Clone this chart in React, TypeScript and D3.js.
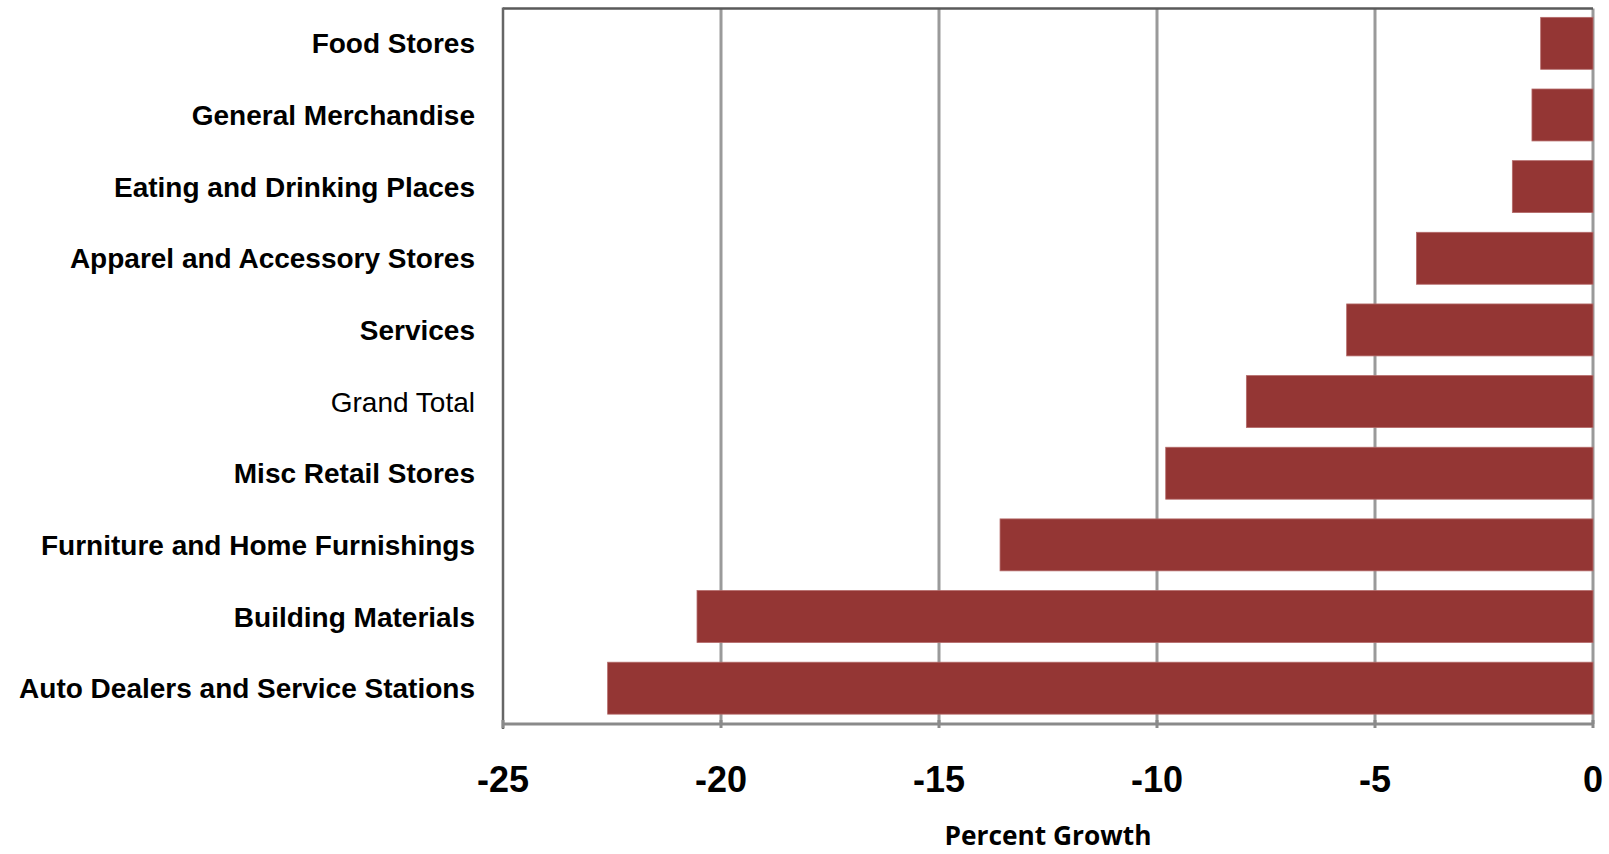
import React from "react";
import * as d3 from "d3";

const categories = [
  "Food Stores",
  "General Merchandise",
  "Eating and Drinking Places",
  "Apparel and Accessory Stores",
  "Services",
  "Grand Total",
  "Misc Retail Stores",
  "Furniture and Home Furnishings",
  "Building Materials",
  "Auto Dealers and Service Stations",
];
const values = [-1.2, -1.4, -1.85, -4.05, -5.65, -7.95, -9.8, -13.6, -20.55, -22.6];
const boldFlags = [true, true, true, true, true, false, true, true, true, true];
const xTicks = [-25, -20, -15, -10, -5, 0];
const xTitle = "Percent Growth";

const W = 1609;
const H = 854;
const L = 503;
const R = 1593;
const T = 7.5;
const B = 724;

export default function App() {
  const x = d3.scaleLinear().domain([-25, 0]).range([L, R]);
  const y = d3
    .scaleBand<string>()
    .domain(categories)
    .range([T, B])
    .paddingInner(0.275)
    .paddingOuter(0.1375);
  const bw = y.bandwidth();

  return (
    <div style={{ position: "absolute", left: 0, top: 0 }}>
      <svg width={W} height={H} style={{ display: "block", background: "#fff" }}>
        {xTicks.slice(1).map((t) => (
          <line
            key={"g" + t}
            x1={x(t)}
            x2={x(t)}
            y1={T + 1}
            y2={B}
            stroke="#9a9a9a"
            strokeWidth={3}
          />
        ))}
        {categories.map((c, i) => {
          const v = values[i];
          return (
            <rect
              key={c}
              x={x(v)}
              y={y(c)!}
              width={x(0) - x(v)}
              height={bw}
              fill="#943634"
              stroke="#b46a69"
              strokeWidth={0.8}
            />
          );
        })}
        <line x1={L} x2={R} y1={T + 1} y2={T + 1} stroke="#5a5a5a" strokeWidth={2.5} />
        <line x1={L} x2={L} y1={T} y2={B + 5} stroke="#666" strokeWidth={2.5} />
        <line x1={L} x2={R + 1} y1={B} y2={B} stroke="#8a8a8a" strokeWidth={3} />
        {xTicks.map((t) => (
          <line
            key={"t" + t}
            x1={x(t)}
            x2={x(t)}
            y1={B - 4}
            y2={B + 4}
            stroke="#8a8a8a"
            strokeWidth={3}
          />
        ))}
        {xTicks.map((t) => (
          <text
            key={"l" + t}
            x={x(t)}
            y={792}
            textAnchor="middle"
            fontFamily="'Liberation Sans', Arial, sans-serif"
            fontWeight="bold"
            fontSize={36}
            fill="#000"
          >
            {t}
          </text>
        ))}
        {categories.map((c, i) => (
          <text
            key={"c" + c}
            x={475}
            y={y(c)! + bw / 2}
            dy="0.36em"
            textAnchor="end"
            fontFamily="'Liberation Sans', Arial, sans-serif"
            fontWeight={boldFlags[i] ? "bold" : "normal"}
            fontSize={28}
            fill="#000"
          >
            {c}
          </text>
        ))}
        <text
          x={(L + R) / 2}
          y={845}
          textAnchor="middle"
          fontFamily="'Open Sans', Lato, sans-serif"
          fontWeight="bold"
          fontSize={26}
          textLength={207}
          lengthAdjust="spacingAndGlyphs"
          fill="#000"
        >
          {xTitle}
        </text>
      </svg>
    </div>
  );
}
